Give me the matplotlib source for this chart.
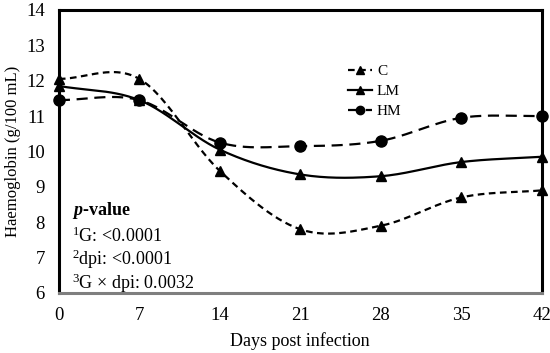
import numpy as np
import matplotlib
matplotlib.use("Agg")
import matplotlib.pyplot as plt
from matplotlib.lines import Line2D

days = [0, 7, 14, 21, 28, 35, 42]
c_vals = [12.05, 12.05, 9.45, 7.8, 7.9, 8.7, 8.9]
lm_vals = [11.85, 11.45, 10.05, 9.35, 9.3, 9.7, 9.85]
hm_vals = [11.45, 11.45, 10.25, 10.15, 10.3, 10.95, 11.0]
y_ticks = [6, 7, 8, 9, 10, 11, 12, 13, 14]

plt.rcParams['font.family'] = ['Liberation Serif', 'DejaVu Serif']
plt.rcParams['mathtext.fontset'] = 'custom'
plt.rcParams['mathtext.rm'] = 'Liberation Serif'
plt.rcParams['mathtext.it'] = 'Liberation Serif:italic'
plt.rcParams['mathtext.bf'] = 'Liberation Serif:bold'
plt.rcParams['mathtext.bfit'] = 'Liberation Serif:italic:bold'

def smooth(x, y, n=30):
    # Catmull-Rom style smoothing (as in spreadsheet "smoothed line")
    x = np.asarray(x, float); y = np.asarray(y, float)
    P = np.column_stack([x, y])
    P = np.vstack([P[0] - (P[1] - P[0]), P, P[-1] + (P[-1] - P[-2])])
    out = []
    t = np.linspace(0, 1, n)[:, None]
    for i in range(1, len(P) - 2):
        p0, p1, p2, p3 = P[i - 1], P[i], P[i + 1], P[i + 2]
        seg = 0.5 * ((2 * p1) + (-p0 + p2) * t + (2 * p0 - 5 * p1 + 4 * p2 - p3) * t ** 2
                     + (-p0 + 3 * p1 - 3 * p2 + p3) * t ** 3)
        out.append(seg if i == 1 else seg[1:])
    S = np.vstack(out)
    return S[:, 0], S[:, 1]

fig = plt.figure(figsize=(5.5, 3.53), dpi=100)
ax = fig.add_axes([0.107, 0.170, 0.878, 0.802])

series = [
    ("C", c_vals, (0, (3, 2)), "^", 7),
    ("LM", lm_vals, "-", "^", 7),
    ("HM", hm_vals, (0, (5, 3)), "o", 8),
]
handles = []
for name, vals, ls, mk, ms in series:
    sx, sy = smooth(days, vals)
    ax.plot(sx, sy, color="black", lw=1.6, linestyle=ls, clip_on=False)
    ax.plot(days, vals, linestyle="none", marker=mk, ms=ms, color="black", clip_on=False, zorder=5)
    handles.append(Line2D([], [], color="black", lw=1.6, linestyle=ls, marker=mk, ms=6))

ax.set_xlim(0, 42)
ax.set_ylim(6, 14)
ax.set_xticks(days)
ax.set_yticks(y_ticks)
ax.tick_params(length=0, labelsize=13.5)
ax.tick_params(axis="x", pad=10)
ax.tick_params(axis="y", pad=10)
for s in ["left", "top", "right"]:
    ax.spines[s].set_linewidth(2.2)
    ax.spines[s].set_color("black")
ax.spines["bottom"].set_linewidth(2.2)
ax.spines["bottom"].set_color("#7f7f7f")

ax.set_xlabel("Days post infection", fontsize=13, labelpad=6)
ax.set_ylabel("Haemoglobin (g/100 mL)", fontsize=12, labelpad=4)

ax.legend(handles=handles, labels=["C", "LM", "HM"], loc="upper left",
          bbox_to_anchor=(0.57, 0.855), frameon=False, fontsize=11,
          handlelength=1.6, labelspacing=0.4, handletextpad=0.3)

tx = 0.027
ax.text(tx, 0.293, "$\\mathbfit{p}$-value", transform=ax.transAxes, fontsize=13,
        fontweight="bold", va="center")
ax.text(tx, 0.20, "$^{1}$G: <0.0001", transform=ax.transAxes, fontsize=13, va="center")
ax.text(tx, 0.12, "$^{2}$dpi: <0.0001", transform=ax.transAxes, fontsize=13, va="center")
ax.text(tx, 0.035, "$^{3}$G × dpi: 0.0032", transform=ax.transAxes, fontsize=13, va="center")

fig.savefig("out.png", dpi=100)
